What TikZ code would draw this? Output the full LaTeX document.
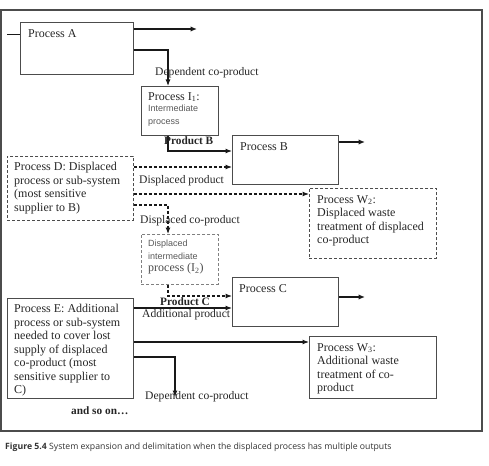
\documentclass[tikz,border=0pt]{standalone}
\usepackage{fontspec}
\setmainfont{Liberation Serif}
\setsansfont{Liberation Sans}
\newfontfamily\capfont{Open Sans}
\usetikzlibrary{arrows.meta,calc}
\begin{document}
\begin{tikzpicture}[x=1pt,y=-1pt,
  box/.style={draw=black!70, line width=0.9pt, inner sep=0pt, anchor=north west},
  dbox/.style={box, dash pattern=on 3pt off 2pt},
  txt/.style={inner sep=0pt, anchor=north west, align=left, text=black!85,
    font=\fontsize{12}{13.5}\selectfont},
  lbl/.style={inner sep=0pt, anchor=west, text=black!85, font=\fontsize{11.6}{13}\selectfont},
  blbl/.style={lbl, font=\bfseries\fontsize{11.3}{13}\selectfont},
  arr/.style={line width=1.1pt, draw=black!90, -{Latex[length=6.5pt,width=5pt]}},
  thk/.style={line width=1.8pt, draw=black!90, -{Latex[length=6.5pt,width=5.5pt]}},
  darr/.style={arr, dash pattern=on 3pt off 2pt},
  sline/.style={line width=0.9pt, draw=black!90}
]
\useasboundingbox (0,0) rectangle (489,465);
% outer frame
\draw[line width=1.4pt, black!70] (1,10) rectangle (482,431);

% boxes
\node[box, minimum width=113pt, minimum height=52pt] (A) at (20,22) {};
\node[box, minimum width=77pt, minimum height=49pt] (I1) at (141,86) {};
\node[box, minimum width=106pt, minimum height=49pt] (B) at (232,135) {};
\node[dbox, minimum width=126pt, minimum height=64pt] (D) at (7,156) {};
\node[dbox, minimum width=127pt, minimum height=70pt] (W2) at (309,188) {};
\node[dbox, draw=black!50, minimum width=77pt, minimum height=50pt] (I2) at (141,234) {};
\node[box, minimum width=106pt, minimum height=49pt] (C) at (232,277) {};
\node[box, minimum width=126pt, minimum height=100pt] (E) at (7,298) {};
\node[box, minimum width=127pt, minimum height=62pt] (W3) at (309,336) {};

% box texts
\node[txt] (tA) at ($(A.north west)+(8,7)$) {Process A};
\node[txt] (tI1) at ($(I1.north west)+(7,6)$) {Process I\textsubscript{1}:\\[-2pt]
  {\sffamily\fontsize{9}{12}\selectfont\color{black!65}Intermediate}\\[-1pt]
  {\sffamily\fontsize{9}{12}\selectfont\color{black!65}process}};
\node[txt] (tB) at ($(B.north west)+(8,7)$) {Process B};
\node[txt] (tD) at ($(D.north west)+(7,6)$) {Process D: Displaced\\process or sub-system\\(most sensitive\\supplier to B)};
\node[txt] (tW2) at ($(W2.north west)+(8,7)$) {Process W\textsubscript{2}:\\Displaced waste\\treatment of displaced\\co-product};
\node[txt] (tI2) at ($(I2.north west)+(7,6)$) {{\sffamily\fontsize{9}{11}\selectfont\color{black!65}Displaced}\\[-1pt]
  {\sffamily\fontsize{9}{11}\selectfont\color{black!65}intermediate}\\[-1pt]
  {\color{black!70}process (I\textsubscript{2})}};
\node[txt] (tC) at ($(C.north west)+(7,7)$) {Process C};
\node[txt] (tE) at ($(E.north west)+(7,6)$) {Process E: Additional\\process or sub-system\\needed to cover lost\\supply of displaced\\co-product (most\\sensitive supplier to\\C)};
\node[txt] (tW3) at ($(W3.north west)+(8,7)$) {Process W\textsubscript{3}:\\Additional waste\\treatment of co-\\product};

% free ends
\coordinate (inA) at (7,34);
\coordinate (outA) at (197,29);
\coordinate (outB) at (365,142);
\coordinate (outC) at (365,297);
\coordinate (outE) at (175,397);

% connectors
\draw[sline] (inA) -- (inA -| A.west);
\draw[thk] (A.east |- outA) -- (outA);
\draw[arr] ($(A.north east)+(0,28)$) -| ($(I1.north west)+(27,0)$);
\draw[arr] ($(I1.south west)+(27,0)$) |- ($(B.north west)+(0,16)$);
\draw[thk] (B.east |- outB) -- (outB);
\draw[darr] ($(D.north east)+(0,11)$) -- ($(B.north west)+(0,32)$);
\draw[darr] ($(D.north east)+(0,38)$) -- ($(W2.north west)+(0,6)$);
\draw[darr] ($(D.north east)+(0,49)$) -| ($(I2.north west)+(27,0)$);
\draw[darr] ($(I2.south west)+(27,0)$) |- ($(C.north west)+(0,19)$);
\draw[thk] (C.east |- outC) -- (outC);
\draw[arr] ($(E.north east)+(0,10)$) -- ($(C.north west)+(0,31)$);
\draw[arr] ($(E.north east)+(0,44)$) -- ($(W3.north west)+(0,6)$);
\draw[arr] ($(E.north east)+(0,59)$) -| (outE);

% labels
\node[lbl] (l1) at (155,73) {Dependent co-product};
\node[blbl] (l2) at (164,141) {Product B};
\node[lbl] (l3) at (139,181) {Displaced product};
\node[lbl] (l4) at (140,221) {Displaced co-product};
\node[blbl] (l5) at (160,302) {Product C};
\node[lbl] (l6) at (142,315) {Additional product};
\node[lbl] (l7) at (145,397) {Dependent co-product};
\node[blbl] (l8) at (71,411) {and so on\ldots};

% caption
\node[inner sep=0pt, anchor=west, text=black!80] (cap) at (5,447)
  {\capfont\fontsize{8.7}{10}\selectfont\textbf{Figure 5.4} System expansion and delimitation when the displaced process has multiple outputs};
\end{tikzpicture}
\end{document}
